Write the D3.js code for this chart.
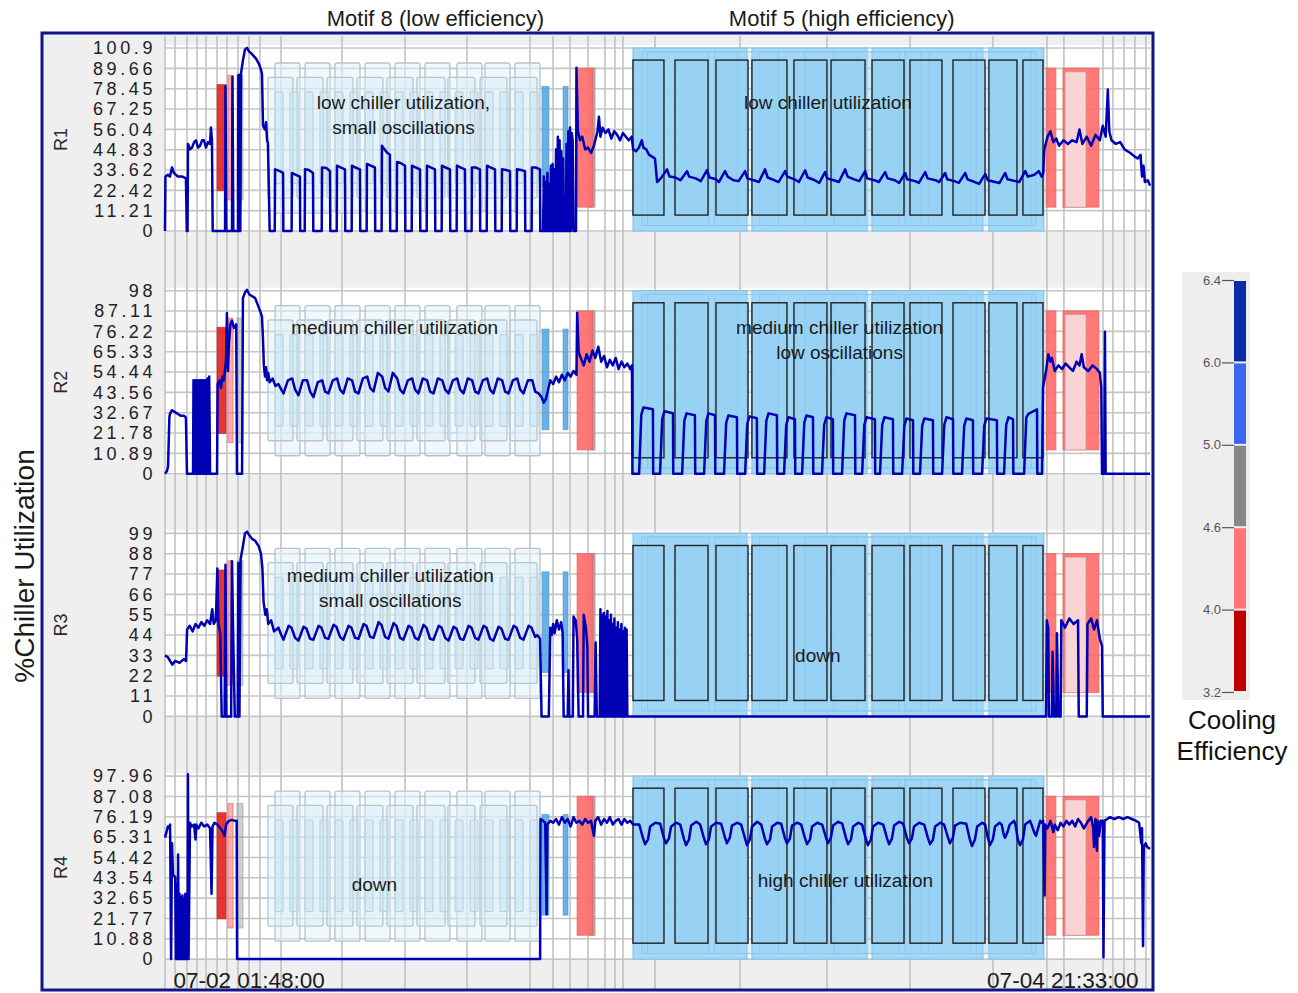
<!DOCTYPE html>
<html>
<head>
<meta charset="utf-8">
<script src="https://cdn.jsdelivr.net/npm/d3@7"></script>
<style>
  body { margin: 0; background: #fff; }
  text { font-family: "Liberation Sans", Arial, sans-serif; }
</style>
</head>
<body>
<svg id="chart" width="1298" height="993"></svg>
<script>
// time is kept as hours after 07-02 01:48:00
const timeStart = new Date(2014, 6, 2, 1, 48, 0);
const timeSpan = 67.75;

const panelNames = ["R1", "R2", "R3", "R4"];
const r1Ticks = [0, 11.21, 22.42, 33.62, 44.83, 56.04, 67.25, 78.45, 89.66, 100.9];
const r2Ticks = [0, 10.89, 21.78, 32.67, 43.56, 54.44, 65.33, 76.22, 87.11, 98];
const r3Ticks = [0, 11, 22, 33, 44, 55, 66, 77, 88, 99];
const r4Ticks = [0, 10.88, 21.77, 32.65, 43.54, 54.42, 65.31, 76.19, 87.08, 97.96];

const gridHours = [0, 0.69, 1.51, 2.2, 2.82, 3.58, 4.26, 5.02, 5.78, 6.53, 7.98, 12.17, 16.51,
  20.77, 25.1, 26.69, 27.86, 29.09, 30.26, 30.95, 31.5, 33.7, 39.55, 45.53, 51.24, 56.95,
  60.66, 61.83, 64.52, 65.2, 65.96, 66.71, 67.47];

// %chiller utilization per unit, [hour, value]
const r1 = [
  [0,0],[0.03,30],[0.2,31],[0.34,30],[0.48,35],[0.62,32],[0.89,30],[1.2,30],[1.44,29],[1.5,0],[1.55,0],
  [1.58,48],[1.72,45],[1.86,46],[2.0,49],[2.13,50],[2.27,46],[2.41,47],[2.55,50],[2.68,50],[2.82,46],
  [2.96,49],[3.1,48],[3.16,57],[3.23,50],[3.28,0],[4.13,0],[4.16,80],[4.22,0],[4.61,0],[4.64,85],[4.7,0],
  [5.02,0],[5.05,86],[5.09,0],[5.13,86],[5.18,0],[5.23,87],[5.36,94],[5.5,100],[5.64,101],[5.78,99],
  [5.98,97.5],[6.26,95],[6.47,92],[6.6,89],[6.67,86.5],[6.74,58],[6.88,56],[6.95,60],[7.02,50],[7.08,48.5],[7.2,0],
  [7.55,0],[7.57,34],[7.9,33],[8.12,32],[8.14,0],
  [8.71,0],[8.73,32],[9.0,31],[9.28,30],[9.3,0],
  [9.61,0],[9.63,34],[9.9,33.6],[10.18,32],[10.2,0],
  [10.78,0],[10.8,35],[11.1,34.7],[11.35,33],[11.37,0],
  [11.81,0],[11.83,36],[12.1,35],[12.38,34],[12.4,0],
  [12.84,0],[12.86,36],[13.1,35],[13.41,34],[13.43,0],
  [13.87,0],[13.89,37],[14.15,36],[14.44,35],[14.46,0],
  [14.9,0],[14.92,47],[15.1,45],[15.3,43],[15.47,42],[15.49,0],
  [15.94,0],[15.96,38],[16.2,37.5],[16.51,36],[16.53,0],
  [16.97,0],[16.99,36],[17.25,35],[17.54,34],[17.56,0],
  [18.0,0],[18.02,36],[18.3,35],[18.57,34],[18.59,0],
  [19.03,0],[19.05,36],[19.3,35],[19.6,34],[19.62,0],
  [20.06,0],[20.08,36],[20.35,35],[20.63,34],[20.65,0],
  [21.09,0],[21.11,35],[21.4,35],[21.66,34],[21.68,0],
  [22.13,0],[22.15,36],[22.4,35],[22.7,34],[22.72,0],
  [23.16,0],[23.18,34],[23.45,33.6],[23.73,33],[23.75,0],
  [24.19,0],[24.21,34],[24.5,33.6],[24.76,33],[24.78,0],
  [25.22,0],[25.24,35],[25.5,35],[25.79,34],[25.81,0],
  [26.0,0],[26.06,30],[26.12,0],[26.18,27],[26.24,0],[26.3,32],[26.36,0],[26.42,26],[26.48,0],[26.54,36],
  [26.6,0],[26.66,37],[26.72,0],[26.78,34],[26.84,0],[26.9,45],[26.96,0],[27.02,52],[27.08,0],[27.14,50],
  [27.2,0],[27.26,44],[27.32,0],[27.38,40],[27.44,0],[27.5,12],[27.56,0],[27.62,48],[27.68,0],[27.74,55],
  [27.8,0],[27.86,57],[27.92,0],[27.98,54],[28.04,50],[28.1,0],[28.27,0],
  [28.3,90],[28.4,55],[28.55,50],[28.7,52],[28.9,45],[29.1,46],[29.3,43],[29.5,47],[29.75,55],[29.85,63],
  [29.95,52],[30.1,57],[30.3,54],[30.5,56],[30.7,51],[30.9,55],[31.1,53],[31.3,50],[31.5,54],[31.7,52],
  [31.9,50],[32.1,52],[32.2,45],[32.4,44],[32.6,46],[32.8,50],[32.9,46],[33.1,45],[33.3,42],[33.5,41],
  [33.7,40],[33.85,27],[34.1,29],[34.53,34],[34.7,30],[35.1,29.5],
  [35.45,28],[35.91,33],[36.05,30],[36.5,29],
  [36.85,27.5],[37.28,33.5],[37.45,29.5],[37.9,28.5],
  [38.1,27],[38.52,33],[38.7,30],[39.1,28],
  [39.45,27.5],[39.9,33],[40.05,29],[40.5,28],
  [40.85,27],[41.27,34],[41.45,29.5],[41.9,28],
  [42.2,27],[42.65,33],[42.8,30],[43.3,28.5],
  [43.6,27],[44.03,33.5],[44.2,29.5],[44.7,28],
  [45.0,26.5],[45.4,32.5],[45.55,29],[46.0,28],
  [46.35,27],[46.78,34],[46.95,30],[47.4,28.5],
  [47.75,27.5],[48.16,33],[48.3,29],[48.8,28],
  [49.1,27],[49.53,32.5],[49.7,29],[50.2,28],
  [50.5,26.5],[50.91,32],[51.05,28.5],[51.6,27.5],
  [51.85,26.5],[52.29,32.5],[52.45,29],[53.0,28],
  [53.25,27],[53.66,32],[53.8,28.5],[54.3,27.5],
  [54.6,26.5],[55.04,32],[55.2,28.5],[55.7,27],
  [56.0,26],[56.42,31.5],[56.6,28],[57.1,27],
  [57.4,26.5],[57.79,32],[57.95,28.5],[58.5,27.5],
  [58.75,27],[59.17,33],[59.35,30],[59.8,31],[60.1,33],[60.3,30],
  [60.41,32],[60.48,45],[60.7,52],[60.9,55],[61.1,49],[61.3,51],[61.5,47],[61.8,50],[62.1,48],[62.4,50],
  [62.7,49],[62.9,56],[63.1,48],[63.4,52],[63.7,47],[64.0,53],[64.3,50],[64.5,58],[64.7,52],[64.85,78],
  [64.95,55],[65.1,50],[65.4,48],[65.7,49],[66.0,45],[66.4,43],[66.7,41],[66.9,40],[67.1,42],[67.2,30],
  [67.3,36],[67.4,27],[67.6,28],[67.75,25]
];

const r2 = [
  [0,0],[0.14,1.5],[0.21,4],[0.3,30],[0.34,32],[0.48,34],[0.69,33],[0.89,32],[1.1,31],[1.31,31],[1.44,30],
  [1.51,0],[1.93,0],[1.96,50],[2.02,0],[2.08,50],[2.14,0],[2.2,50],[2.26,0],[2.32,50],[2.38,0],[2.44,50],
  [2.5,0],[2.56,50],[2.62,0],[2.68,50],[2.74,0],[2.8,50],[2.86,0],[2.92,51],[2.98,0],[3.04,52],[3.1,0],
  [3.58,0],[3.62,48],[3.75,50],[3.85,46],[3.95,52],[4.05,50],[4.2,61],[4.26,86],[4.33,55],[4.4,70],[4.5,80],
  [4.6,82],[4.75,78],[4.9,80],[4.95,0],[5.3,0],[5.36,94],[5.5,97],[5.64,98.5],[5.8,96],[6.0,95],[6.2,94],
  [6.4,90],[6.55,87],[6.67,84],[6.74,72],[6.8,58],[6.88,52],[6.95,57],[7.02,50],[7.1,54],[7.2,49],[7.4,51],
  [7.6,47],[7.8,48],[8.0,45],
  [8.15,43],[8.45,50],[8.75,51],[8.95,45],
  [9.18,42],[9.48,50],[9.78,50],[9.98,44],
  [10.21,41],[10.51,49],[10.81,50],[11.01,44],
  [11.24,43],[11.54,50],[11.84,51],[12.04,45],
  [12.27,43],[12.57,51],[12.87,50],[13.07,44],
  [13.31,43],[13.61,51],[13.91,52],[14.11,46],
  [14.34,44],[14.64,54],[14.94,52],[15.14,46],
  [15.37,44],[15.67,54],[15.97,51],[16.17,45],
  [16.4,43],[16.7,50],[17.0,51],[17.2,45],
  [17.43,43],[17.73,51],[18.03,50],[18.23,44],
  [18.47,43],[18.77,51],[19.07,50],[19.27,45],
  [19.5,43],[19.8,50],[20.1,51],[20.3,45],
  [20.53,43],[20.83,51],[21.13,50],[21.33,44],
  [21.56,43],[21.86,50],[22.16,51],[22.36,45],
  [22.59,43],[22.89,51],[23.19,50],[23.39,44],
  [23.63,43],[23.93,50],[24.23,51],[24.43,45],
  [24.66,43],[24.96,50],[25.26,50],[25.46,44],
  [25.7,43],[25.9,41],[26.05,38],[26.2,40],[26.35,45],[26.5,50],[26.7,48],[26.9,52],[27.1,49],[27.3,53],
  [27.5,50],[27.7,54],[27.9,52],[28.1,55],[28.3,53],[28.35,86],[28.45,65],[28.6,62],[28.8,58],[29.0,64],
  [29.2,60],[29.4,66],[29.6,62],[29.8,68],[30.0,60],[30.2,63],[30.4,57],[30.6,61],[30.8,58],[31.0,62],
  [31.2,56],[31.4,60],[31.6,57],[31.8,59],[32.0,56],[32.12,58],[32.15,0],
  [32.61,0],[32.76,31.5],[32.91,35.5],[33.56,34.5],[33.58,0],
  [34.05,0],[34.2,29.4],[34.35,33.4],[34.94,32.4],[34.96,0],
  [35.57,0],[35.72,28.3],[35.87,32.3],[36.45,31.3],[36.47,0],
  [37.08,0],[37.23,28.3],[37.38,32.3],[37.83,31.3],[37.85,0],
  [38.45,0],[38.6,27.2],[38.75,31.2],[39.34,30.2],[39.36,0],
  [39.9,0],[40.05,26.7],[40.2,30.7],[40.71,29.7],[40.73,0],
  [41.21,0],[41.36,28.3],[41.51,32.3],[42.09,31.3],[42.11,0],
  [42.58,0],[42.73,26.2],[42.88,30.2],[43.33,29.2],[43.35,0],
  [43.82,0],[43.97,27.2],[44.12,31.2],[44.57,30.2],[44.59,0],
  [45.19,0],[45.34,26.2],[45.49,30.2],[45.94,29.2],[45.96,0],
  [46.57,0],[46.72,28.3],[46.87,32.3],[47.46,31.3],[47.48,0],
  [47.95,0],[48.1,26.2],[48.25,30.2],[48.83,29.2],[48.85,0],
  [49.18,0],[49.33,26.2],[49.48,30.2],[50.07,29.2],[50.09,0],
  [50.7,0],[50.85,25.6],[51.0,29.6],[51.45,28.6],[51.47,0],
  [51.93,0],[52.08,25.6],[52.23,29.6],[52.82,28.6],[52.84,0],
  [53.45,0],[53.6,26.2],[53.75,30.2],[54.2,29.2],[54.22,0],
  [54.82,0],[54.97,25.6],[55.12,29.6],[55.57,28.6],[55.59,0],
  [56.2,0],[56.35,25.6],[56.5,29.6],[57.22,28.6],[57.24,0],
  [57.71,0],[57.86,26.2],[58.01,30.2],[58.33,29.2],[58.35,0],
  [59.09,0],[59.24,30],[59.39,32],[59.98,34.5],[60.0,0],
  [60.32,0],[60.39,46],[60.6,55],[60.75,64],[60.9,60],[61.0,62],[61.2,55],[61.45,58],[61.7,56],[61.95,59],
  [62.2,57],[62.45,55],[62.7,60],[62.9,58],[63.05,64],[63.2,57],[63.5,55],[63.8,58],[64.1,56],[64.3,54],
  [64.4,46],[64.45,0],[64.6,0],[64.65,76],[64.7,0],[67.75,0]
];

const r3 = [
  [0,33],[0.2,32],[0.5,28],[0.7,30],[1.0,29],[1.3,31],[1.45,30],[1.52,47],[1.7,49],[1.9,46],[2.1,50],
  [2.3,48],[2.5,51],[2.7,49],[2.9,52],[3.1,50],[3.25,58],[3.35,50],[3.5,52],[3.6,80],[3.68,50],[3.8,45],
  [3.9,0],[4.1,0],[4.16,82],[4.22,0],[4.55,0],[4.6,84],[4.7,40],[4.8,0],[5.0,0],[5.05,83],[5.12,0],[5.2,85],
  [5.36,92],[5.5,99],[5.64,100],[5.8,98],[6.0,96],[6.2,95],[6.45,92],[6.6,88],[6.7,80],[6.78,62],[6.9,55],
  [7.0,58],[7.1,50],[7.3,52],[7.5,46],[7.8,48],[8.0,44],
  [8.15,41.5],[8.5,49],[8.7,48],[8.95,42.5],
  [9.18,41],[9.53,48.5],[9.73,47.5],[9.98,42],
  [10.21,41.5],[10.56,49],[10.76,48],[11.01,42.5],
  [11.24,42],[11.59,49.5],[11.79,48.5],[12.04,43],
  [12.27,41.5],[12.62,49],[12.82,48],[13.07,42.5],
  [13.31,42],[13.66,50],[13.86,49],[14.11,43],
  [14.34,42.5],[14.69,51],[14.89,49.5],[15.14,43],
  [15.37,42],[15.72,50.5],[15.92,49],[16.17,42.5],
  [16.4,41.5],[16.75,49],[16.95,48],[17.2,42.5],
  [17.43,41.5],[17.78,49.5],[17.98,48],[18.23,42],
  [18.47,41.5],[18.82,49],[19.02,48],[19.27,42.5],
  [19.5,41],[19.85,48.5],[20.05,47.5],[20.3,42],
  [20.53,41.5],[20.88,49],[21.08,48],[21.33,42.5],
  [21.56,41.5],[21.91,49],[22.11,48],[22.36,42],
  [22.59,41],[22.94,48.5],[23.14,47.5],[23.39,42],
  [23.63,41.5],[23.98,49],[24.18,48],[24.43,42.5],
  [24.66,41.5],[25.01,49],[25.21,48],[25.46,43],
  [25.6,44],[25.8,42],[25.9,0],[26.4,0],[26.5,48],[26.6,44],[26.7,50],[26.8,45],[26.95,52],[27.1,47],
  [27.25,51],[27.35,45],[27.42,0],[27.7,0],[27.75,25],[27.8,0],[28.05,0],[28.1,54],[28.25,52],[28.35,42],
  [28.45,0],[28.75,0],[28.8,55],[28.95,48],[29.05,38],[29.1,0],[29.55,0],[29.62,40],[29.7,0],[29.9,0],
  [29.95,58],[30.01,0],[30.07,55],[30.13,0],[30.19,56],[30.25,0],[30.31,54],[30.37,0],[30.43,57],[30.49,0],
  [30.55,52],[30.61,0],[30.67,55],[30.73,0],[30.79,50],[30.85,0],[30.91,53],[30.97,0],[31.03,48],[31.09,0],
  [31.15,51],[31.21,0],[31.27,47],[31.33,0],[31.39,50],[31.45,0],[31.51,46],[31.57,0],[31.63,48],[31.69,0],
  [31.75,47],[31.8,0],
  [60.6,0],[60.65,52],[60.75,48],[60.8,0],[61.0,0],[61.05,35],[61.15,0],[61.3,0],[61.35,45],[61.45,0],
  [61.6,0],[61.65,52],[61.9,48],[62.2,53],[62.5,50],[62.8,52],[62.85,0],[63.4,0],[63.45,50],[63.7,53],
  [63.9,47],[64.1,52],[64.3,42],[64.45,38],[64.5,0],[67.75,0]
];

const r4 = [
  [0,65],[0.1,68],[0.2,71],[0.3,70],[0.35,72],[0.42,0],[0.48,62],[0.55,45],[0.7,44],[0.75,0],[0.8,40],
  [0.85,0],[0.9,56],[0.95,0],[0.98,30],[1.0,35],[1.03,0],[1.07,28],[1.1,33],[1.13,0],[1.17,30],[1.2,34],
  [1.23,0],[1.27,29],[1.3,32],[1.33,0],[1.37,31],[1.4,35],[1.43,0],[1.47,28],[1.5,30],[1.55,0],[1.58,99],
  [1.62,0],[1.72,73],[1.85,71],[2.0,72],[2.1,64],[2.15,72],
  [2.3,70],[2.5,73],[2.7,71],[2.9,72],[3.1,70],[3.2,35],[3.27,71],[3.4,73],[3.6,72],[3.8,70],[4.0,68],
  [4.1,66],[4.2,72],[4.4,74],[4.6,74.5],[4.8,74],[4.93,74],[4.96,0],[25.8,0],[25.83,75],[26.0,74],
  [26.15,73],[26.25,24],[26.3,72],[26.5,74],[26.7,73],[26.9,75],[27.1,72],[27.3,76],[27.5,73],[27.7,75],
  [27.9,71],[28.1,76],[28.3,73],[28.5,74],[28.7,72],[28.9,75],[29.1,73],[29.3,74],[29.5,66],[29.6,74],
  [29.8,76],[30.0,72],[30.2,75],[30.4,73],[30.6,76],[30.8,72],[31.0,74],[31.2,75],[31.4,72],[31.6,75],
  [31.8,73],[32.0,74],[32.2,72],
  [32.62,72],[32.87,65],[33.02,61.5],[33.22,64],[33.37,71],[33.72,73],
  [34.06,72.5],[34.31,65],[34.46,62],[34.66,64.5],[34.81,71],[35.16,73],
  [35.44,72],[35.69,64.5],[35.84,61],[36.04,64],[36.19,71.5],[36.54,73.5],
  [36.81,72],[37.06,65],[37.21,61.5],[37.41,64],[37.56,71],[37.91,73],
  [38.25,72.5],[38.5,65.5],[38.65,62],[38.85,65],[39.0,71.5],[39.35,73],
  [39.63,72],[39.88,65],[40.03,61],[40.23,64],[40.38,71],[40.73,73.5],
  [41.01,72],[41.26,64.5],[41.41,61.5],[41.61,64],[41.76,71],[42.11,73],
  [42.38,72.5],[42.63,65],[42.78,62],[42.98,64.5],[43.13,71.5],[43.48,73],
  [43.76,72],[44.01,65],[44.16,61.5],[44.36,64],[44.51,71],[44.86,73],
  [45.2,72],[45.45,65.5],[45.6,62],[45.8,65],[45.95,71.5],[46.3,73.5],
  [46.58,72.5],[46.83,65],[46.98,61.5],[47.18,64],[47.33,71],[47.68,73],
  [47.95,72],[48.2,64.5],[48.35,61],[48.55,64],[48.7,71],[49.05,73],
  [49.4,72],[49.65,65],[49.8,61.5],[50.0,64.5],[50.15,71.5],[50.5,73.5],
  [50.77,72.5],[51.02,65],[51.17,62],[51.37,64.5],[51.52,71],[51.87,73],
  [52.22,72],[52.47,65],[52.62,61.5],[52.82,64],[52.97,71],[53.32,73],
  [53.59,72],[53.84,65.5],[53.99,62],[54.19,65],[54.34,71.5],[54.69,73],
  [55.11,72.5],[55.36,64],[55.51,60.5],[55.71,64],[55.86,71],[56.21,73],
  [56.41,72],[56.6,65],[56.74,61],[56.94,64],[57.09,71],[57.4,73],
  [57.55,72],[57.68,67],[57.78,65],[57.95,68],[58.1,72],[58.4,74],
  [58.5,72],[58.66,64],[58.81,61],[59.01,64],[59.16,72],[59.5,74],
  [59.6,72],[59.78,68],[59.91,66],[60.05,70],[60.2,74],
  [60.3,73],[60.4,74],[60.5,34],[60.55,72],[60.7,70],[60.9,74],[61.1,68],[61.2,72],[61.4,69],[61.6,73],
  [61.8,71],[62.0,74],[62.2,72],[62.4,74],[62.6,71],[62.8,75],[63.0,73],[63.2,70],[63.35,72],[63.5,74],
  [63.7,76],[63.85,70],[63.9,60],[64.0,75],[64.1,58],[64.15,74],[64.25,66],[64.35,74],[64.5,74],[64.55,1],
  [64.62,74],[64.8,75],[65.0,76],[65.3,75],[65.6,76],[65.9,75],[66.2,76],[66.5,75],[66.8,74],[67.0,73],
  [67.15,62],[67.2,70],[67.27,7],[67.32,60],[67.45,62],[67.55,60],[67.75,59]
];

const panelSeries = [r1, r2, r3, r4];
const panelTicks = [r1Ticks, r2Ticks, r3Ticks, r4Ticks];

// motif 8 occurrences (light windows), [start hour, end hour]
const m8Outer = [[7.57,9.28],[9.63,11.35],[11.69,13.41],[13.76,15.48],[15.82,17.54],[17.88,19.6],[20.08,21.8],[22.01,23.73],[24.07,25.79]];
const m8Mid = [[7.08,8.8],[9.08,10.87],[11.14,12.93],[13.21,14.99],[15.27,17.06],[17.33,19.26],[19.46,21.32],[21.67,23.52],[23.73,25.59]];
const m8Inner = [[7.57,8.12],[8.6,9.15],[9.63,10.18],[10.66,11.21],[11.69,12.24],[12.72,13.27],[13.76,14.31],[14.79,15.34],[15.82,16.37],
  [16.85,17.4],[17.88,18.43],[18.92,19.47],[19.95,20.5],[20.98,21.53],[22.01,22.56],[23.04,23.59],[24.08,24.63],[25.11,25.66]];

// motif 5 occurrences
const m5Windows = [[32.19,40.03],[40.37,48.29],[48.63,56.26],[56.67,60.45]];
const m5Shadows = [[32.8,39.4],[40.9,47.6],[44.0,52.0],[52.5,59.6],[33.2,37.4],[37.8,42.2],[46.0,50.5],[50.9,55.4],[55.8,59.9]];
const m5Boxes = [[32.19,34.32],[35.08,37.35],[37.9,40.1],[40.37,42.78],[43.26,45.53],[45.81,48.15],[48.63,50.83],
  [51.24,53.44],[54.2,56.4],[56.67,58.6],[59.01,60.39]];

// efficiency windows: [start hour, end hour, COP, kind]
const effWindows = [
  [4.95, 5.36, 4.8, "halo"],
  [4.33, 4.68, 4.3, "halo"],
  [3.58, 4.2, 3.7, "core"],
  [25.93, 26.41, 5.5, "short"],
  [27.38, 27.72, 5.5, "short"],
  [29.23, 29.58, 4.8, "long"],
  [28.34, 29.44, 4.3, "long"],
  [60.6, 61.28, 4.3, "long"],
  [61.76, 64.24, 4.3, "long"],
  [61.9, 63.35, 4.3, "inner"]
];

const effTicks = [3.2, 4.0, 4.6, 5.0, 6.0, 6.4];
const effColors = ["#c00000", "#ff7474", "#888888", "#3a66f0", "#0a2ca8"];

const notes = [
  [0, 16.4, 71, ["low chiller utilization,", "small oscillations"]],
  [0, 45.6, 71, ["low chiller utilization"]],
  [1, 15.8, 78.6, ["medium chiller utilization"]],
  [1, 46.4, 78.6, ["medium chiller utilization", "low oscillations"]],
  [2, 15.5, 76.7, ["medium chiller utilization", "small oscillations"]],
  [2, 44.9, 33, ["down"]],
  [3, 14.4, 40, ["down"]],
  [3, 46.8, 42.6, ["high chiller utilization"]]
];

// ---------------------------------------------------------------------------
const svg = d3.select("#chart");
const plotLeft = 165, plotRight = 1150;
const frame = { x0: 42, y0: 33, x1: 1153, y1: 990 };
const bands = { m8Outer: [0.098, 0.918], m8Mid: [0.18, 0.84], m8Inner: [0.26, 0.76], m5Box: [0.087, 0.934],
  m5Win: [0, 1], m5Shadow: [0.03, 0.98],
  core: [0.22, 0.8], halo: [0.17, 0.85], short: [0.24, 0.79], long: [0.13, 0.89], inner: [0.13, 0.87] };

const x = d3.scaleLinear().domain([0, timeSpan]).range([plotLeft, plotRight]);
const boxColor = d3.scaleThreshold().domain([4.0, 4.6, 5.0, 6.0])
  .range(["#e41e1e", "#ff6a6a", "#a8a8a8", "#5aa8e4", "#2a4fc0"]);

svg.append("rect").attr("width", 1298).attr("height", 993).attr("fill", "#fff");
svg.append("rect").attr("x", frame.x0).attr("y", frame.y0)
  .attr("width", frame.x1 - frame.x0).attr("height", frame.y1 - frame.y0).attr("fill", "#efefef");

const panels = panelNames.map((name, i) => {
  const top = 48 + 242.7 * i;
  const ticks = panelTicks[i];
  const y = d3.scaleLinear().domain([0, ticks[ticks.length - 1]]).range([top + 183, top]);
  return { name, y, ticks, series: panelSeries[i] };
});

// white panel areas and horizontal grid
panels.forEach(p => {
  const g = svg.append("g");
  g.append("rect").attr("x", plotLeft).attr("y", p.y.range()[1] - 3)
    .attr("width", plotRight - plotLeft).attr("height", p.y.range()[0] - p.y.range()[1] + 4)
    .attr("fill", "#fff");
  g.selectAll("line").data(p.ticks).join("line")
    .attr("x1", plotLeft).attr("x2", plotRight)
    .attr("y1", d => p.y(d)).attr("y2", d => p.y(d))
    .attr("stroke", "#c6c6c6").attr("stroke-width", 1.6);
});

// vertical grid
svg.append("g").selectAll("line").data(gridHours).join("line")
  .attr("x1", d => x(d)).attr("x2", d => x(d))
  .attr("y1", frame.y0 + 3).attr("y2", frame.y1 - 1)
  .attr("stroke", "#c2c2c2").attr("stroke-width", 1.6);

function band(p, b) {
  const max = p.y.domain()[1];
  return { y: p.y(max * b[1]), h: p.y(max * b[0]) - p.y(max * b[1]) };
}

function windows(g, p, data, b, fill, opacity, stroke, sw, rx) {
  const bb = band(p, b);
  g.append("g").selectAll("rect").data(data).join("rect")
    .attr("x", d => x(d[0])).attr("width", d => x(d[1]) - x(d[0]))
    .attr("y", bb.y).attr("height", bb.h).attr("rx", rx)
    .attr("fill", fill).attr("fill-opacity", opacity)
    .attr("stroke", stroke).attr("stroke-width", sw);
}

panels.forEach(p => {
  const g = svg.append("g");
  // motif 8
  windows(g, p, m8Outer, bands.m8Outer, "#e2f3fb", 0.55, "#b5c3c9", 1.3, 2);
  windows(g, p, m8Mid, bands.m8Mid, "#d8eef8", 0.45, "#b8c6cc", 1.3, 2);
  windows(g, p, m8Inner, bands.m8Inner, "#c6e4f3", 0.5, "#bfd0d8", 1.1, 1);
  // motif 5
  windows(g, p, m5Windows, bands.m5Win, "#9fd7f6", 0.95, "#86c4ea", 1.2, 0);
  windows(g, p, m5Shadows, bands.m5Shadow, "#9ad4f5", 0.3, "#8cc6e8", 1, 0);
  windows(g, p, m5Boxes, bands.m5Box, "#8ecff5", 0.45, "#222", 1.4, 0);
  // efficiency windows
  g.append("g").selectAll("rect").data(effWindows).join("rect")
    .attr("x", d => x(d[0])).attr("width", d => x(d[1]) - x(d[0]))
    .attr("y", d => band(p, bands[d[3]]).y).attr("height", d => band(p, bands[d[3]]).h)
    .attr("fill", d => d[3] === "inner" ? "#f8dede" : boxColor(d[2]))
    .attr("fill-opacity", d => d[3] === "halo" ? 0.55 : 0.9)
    .attr("stroke", d => d3.color(d[3] === "inner" ? "#e8a0a0" : boxColor(d[2])).darker(0.4))
    .attr("stroke-opacity", 0.6).attr("stroke-width", 1);
  // utilization line
  g.append("path").datum(p.series)
    .attr("d", d3.line().x(d => x(d[0])).y(d => p.y(d[1])))
    .attr("fill", "none").attr("stroke", "#0000b4").attr("stroke-width", 2.5)
    .attr("stroke-linejoin", "round");
  // y axis labels
  const ax = g.append("g").attr("transform", `translate(${plotLeft},0)`)
    .call(d3.axisLeft(p.y).tickValues(p.ticks).tickSize(0).tickPadding(10).tickFormat(d => String(d)));
  ax.select(".domain").remove();
  ax.selectAll("text").attr("font-family", "'Liberation Sans', Arial, sans-serif")
    .attr("font-size", 18).attr("letter-spacing", "3.6px").attr("fill", "#222").attr("x", -9);
  // unit label
  const cy = (p.y.range()[0] + p.y.range()[1]) / 2;
  g.append("text").attr("transform", `translate(67,${cy}) rotate(-90)`)
    .attr("text-anchor", "middle").attr("font-size", 18).attr("fill", "#2a2a2a").text(p.name);
});

// annotations
notes.forEach(([pi, t, v, lines]) => {
  const p = panels[pi];
  const t0 = svg.append("text").attr("text-anchor", "middle").attr("font-size", 19).attr("fill", "#1a1a1a");
  lines.forEach((s, k) => {
    t0.append("tspan").attr("x", x(t)).attr("y", p.y(v) + 7 + k * 25).text(s);
  });
});

// frame
svg.append("rect").attr("x", frame.x0).attr("y", frame.y0)
  .attr("width", frame.x1 - frame.x0).attr("height", frame.y1 - frame.y0)
  .attr("fill", "none").attr("stroke", "#14148a").attr("stroke-width", 3);

// titles
svg.append("text").attr("x", x(18.6)).attr("y", 26).attr("text-anchor", "middle")
  .attr("font-size", 22).attr("fill", "#1a1a1a").text("Motif 8 (low efficiency)");
svg.append("text").attr("x", x(46.55)).attr("y", 26).attr("text-anchor", "middle")
  .attr("font-size", 22).attr("fill", "#1a1a1a").text("Motif 5 (high efficiency)");

svg.append("text").attr("transform", "translate(34,566) rotate(-90)").attr("text-anchor", "middle")
  .attr("font-size", 28).attr("fill", "#1a1a1a").text("%Chiller Utilization");

// time axis
const fmt = d3.timeFormat("%m-%d %H:%M:%S");
const xa = svg.append("g").attr("transform", "translate(0,970)")
  .call(d3.axisBottom(x).tickValues([0, timeSpan]).tickSize(0).tickPadding(0)
    .tickFormat(h => fmt(new Date(+timeStart + h * 3600e3))));
xa.select(".domain").remove();
xa.selectAll("text").attr("font-family", "'Liberation Sans', Arial, sans-serif")
  .attr("font-size", 22.5).attr("fill", "#1a1a1a").attr("dy", null).attr("y", 18)
  .attr("text-anchor", (d, i) => i === 0 ? "start" : "end")
  .attr("dx", (d, i) => i === 0 ? 8 : -12);

// legend
const ly = d3.scalePoint().domain(effTicks).range([692, 280]);
const lg = svg.append("g");
lg.append("rect").attr("x", 1182).attr("y", 272).attr("width", 68).attr("height", 428).attr("fill", "#eeeeee");
lg.selectAll(".seg").data(d3.pairs(effTicks)).join("rect").attr("class", "seg")
  .attr("x", 1234).attr("width", 12)
  .attr("y", d => ly(d[1]) + 1).attr("height", d => ly(d[0]) - ly(d[1]) - 2)
  .attr("fill", (d, i) => effColors[i]);
const la = lg.append("g").attr("transform", "translate(1234,0)")
  .call(d3.axisLeft(ly).tickSize(12).tickPadding(1).tickFormat(d3.format(".1f")));
la.select(".domain").remove();
la.selectAll("line").attr("stroke", "#555").attr("stroke-width", 1.2);
la.selectAll("text").attr("font-family", "'Liberation Sans', Arial, sans-serif")
  .attr("font-size", 13).attr("fill", "#555");
lg.append("text").attr("x", 1232).attr("y", 729).attr("text-anchor", "middle")
  .attr("font-size", 26).attr("fill", "#111").text("Cooling");
lg.append("text").attr("x", 1232).attr("y", 760).attr("text-anchor", "middle")
  .attr("font-size", 26).attr("fill", "#111").text("Efficiency");
</script>
</body>
</html>
